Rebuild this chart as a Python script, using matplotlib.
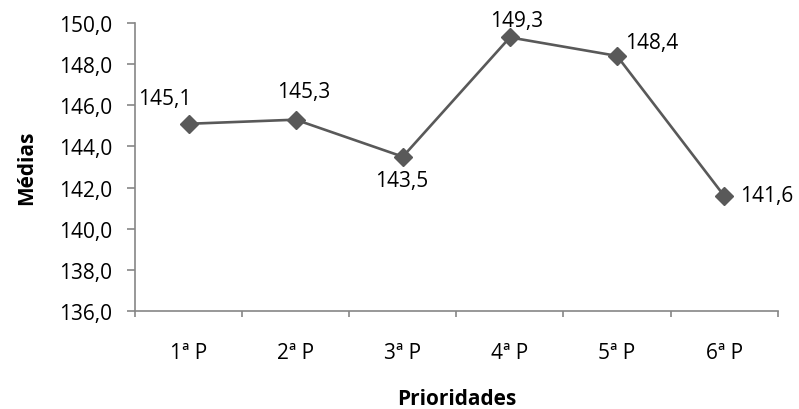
import numpy as np
import matplotlib.pyplot as plt

plt.rcParams['font.family'] = ['Open Sans', 'DejaVu Sans']

# data
categorias = ["1ª P", "2ª P", "3ª P", "4ª P", "5ª P", "6ª P"]
medias = [145.1, 145.3, 143.5, 149.3, 148.4, 141.6]
rotulos = ["145,1", "145,3", "143,5", "149,3", "148,4", "141,6"]
yticks = [136, 138, 140, 142, 144, 146, 148, 150]

# offsets of the value labels (points)
desloc = [(-17, 18), (6, 20), (-1, -17), (5, 12), (25, 10), (31, 0)]

cor_eixo = "#868686"
cor_linha = "#595959"
fs = 15

fig = plt.figure(figsize=(7.99, 4.10), dpi=100)
ax = fig.add_axes([0.169, 0.239, 0.8043, 0.7025])

x = np.arange(len(categorias))
ax.plot(x, medias, color=cor_linha, lw=1.9, marker="D", ms=9.5,
        markerfacecolor=cor_linha, markeredgecolor=cor_linha, zorder=3)

for xi, yi, txt, (dx, dy) in zip(x, medias, rotulos, desloc):
    ax.annotate(txt, (xi, yi), xytext=(dx, dy), textcoords="offset points",
                ha="center", va="center", fontsize=fs, color="black")

ax.set_xlim(-0.5, len(categorias) - 0.5)
ax.set_ylim(136, 150)
ax.set_yticks(yticks)
ax.set_yticklabels(["{:.1f}".format(v).replace(".", ",") for v in yticks])
ax.set_xticks(x)
ax.set_xticklabels(categorias)
ax.set_xticks(np.arange(-0.5, len(categorias)), minor=True)

ax.tick_params(axis="x", which="major", length=0, pad=22, labelsize=fs)
ax.tick_params(axis="x", which="minor", length=4.5, width=1.2, color=cor_eixo, direction="out")
ax.tick_params(axis="y", length=5.5, width=1.2, color=cor_eixo, pad=11, labelsize=fs)

for s in ["top", "right"]:
    ax.spines[s].set_visible(False)
for s in ["left", "bottom"]:
    ax.spines[s].set_color(cor_eixo)
    ax.spines[s].set_linewidth(1.2)

ax.set_ylabel("Médias", fontsize=fs, fontweight="bold", labelpad=16)
ax.set_xlabel("Prioridades", fontsize=fs, fontweight="bold", labelpad=18)

fig.savefig("out.png", dpi=100)
